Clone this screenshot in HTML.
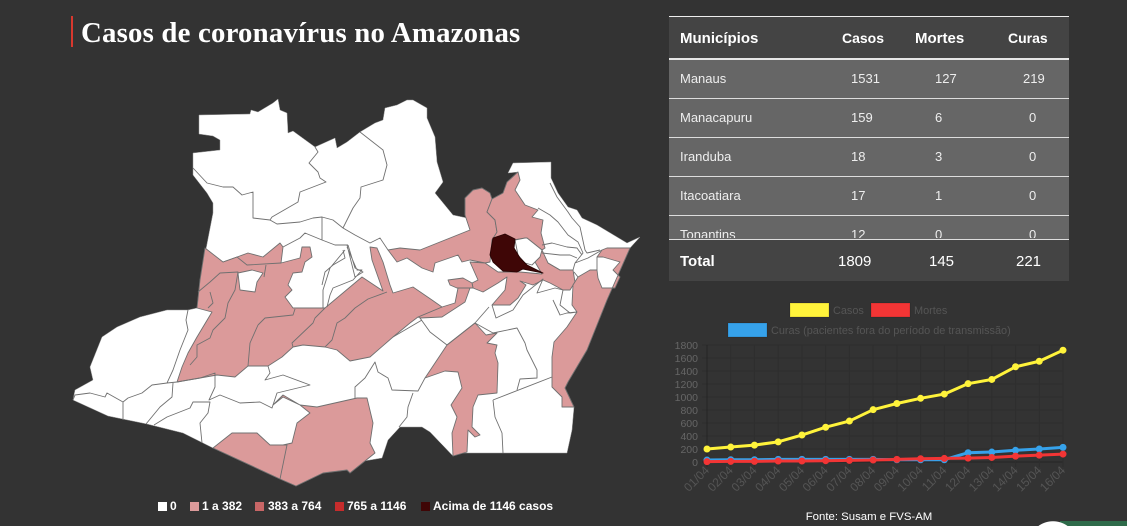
<!DOCTYPE html>
<html lang="pt">
<head>
<meta charset="utf-8">
<title>Casos de coronavírus no Amazonas</title>
<style>
html,body{margin:0;padding:0;background:#333;width:1127px;height:526px;overflow:hidden;}
body{position:relative;font-family:"Liberation Sans",sans-serif;color:#fff;}
.abs{position:absolute;}
#title{left:81px;top:15px;font:bold 28.8px/36px "Liberation Serif",serif;letter-spacing:.2px;white-space:nowrap;}
#title-bar{left:71px;top:16px;width:2px;height:31px;background:#d8382e;}
#tbl{left:669px;top:16px;width:400px;height:265px;background:#666;overflow:hidden;}
.row{position:absolute;left:0;width:400px;height:38px;border-bottom:1px solid #ddd;font-size:13px;color:#eee;}
.c{position:absolute;line-height:37px;white-space:nowrap;}
#thead{position:absolute;left:0;top:0;width:400px;height:41px;background:#444;border-top:1px solid #eee;border-bottom:2px solid #e6e6e6;font-weight:bold;font-size:15px;}
#thead .c{line-height:43px;}
#tfoot{position:absolute;left:0;top:223px;width:400px;height:41px;background:#444;border-top:1px solid #ddd;font-size:15px;}
#tfoot .c{line-height:43px;}
.leg{position:absolute;top:499px;font:bold 12px/14px "Liberation Sans",sans-serif;white-space:nowrap;}
.sw{position:absolute;top:502px;width:9px;height:9px;}
#fonte{left:769px;width:200px;top:510px;text-align:center;font-size:11.4px;line-height:15px;}
#corner-green{left:1060px;top:521px;width:67px;height:5px;background:#2e6b4a;}
#corner-circle{left:1028px;top:521px;width:50px;height:5px;background:radial-gradient(circle 25px at 25px 25px,#fff 24.5px,rgba(255,255,255,0) 25px);}
</style>
</head>
<body>
<div id="title-bar" class="abs"></div>
<div id="title" class="abs">Casos de coronavírus no Amazonas</div>

<svg class="abs" style="left:0;top:0" width="660" height="500" viewBox="0 0 660 500">
<g stroke="#707070" stroke-width="0.9" stroke-linejoin="round" fill="none">
<polygon fill="#fff" stroke="#999" stroke-width="0.5" points="199,115 250,114 251,110 258,112 273,103 278,99 280,110 287,113 288,133 293,131 315,147 335,138 337,148 347,142 360,132 375,123 383,120 385,108 397,105 407,100 413,100 427,108 427,118 435,137 437,162 443,182 435,193 453,215 467,218 470,230 465,215 465,198 473,190 482,188 490,193 492,199 503,193 507,182 518,172 508,173 513,163 551,162 551,178 558,193 568,207 577,210 582,218 597,225 617,237 627,243 640,237 630,248 607,300 587,350 568,382 565,388 574,407 572,430 567,453 463,453 453,456 430,432 422,427 400,427 388,440 382,458 358,462 350,473 347,470 323,473 296,486 280,479 213,448 183,433 147,424 108,416 73,400 75,390 93,380 90,367 102,337 117,327 140,317 167,310 188,310 197,308 200,280 213,213 213,203 207,193 193,175 193,153 220,150 220,140 213,136 199,134"/>
<g fill="#db9a9a">
<polygon points="388,250 400,248 420,250 440,242 470,230 465,215 465,198 473,190 482,188 490,193 492,199 487,212 495,220 497,232 507,236 492,240 490,262 485,263 470,260 462,262 458,255 435,263 433,272 422,268 407,258 397,262"/>
<polygon points="492,199 503,193 507,182 518,172 520,180 515,190 525,205 538,210 532,217 543,220 541,233 545,248 542,250 527,238 513,240 503,235 492,240 497,232 495,220 487,212"/>
<polygon points="470,262 485,263 498,272 510,272 520,272 542,274 535,262 542,250 548,263 560,270 573,270 575,282 570,290 563,290 550,283 543,280 533,285 520,281 526,285 518,298 510,305 492,305 505,290 507,277 498,283 483,292 473,288 472,283 478,280"/>
<polygon points="448,280 463,278 472,283 473,288 457,288 450,285"/>
<polygon points="458,288 470,288 465,302 442,317 420,318 418,317 442,307 455,303"/>
<polygon points="205,248 223,262 237,257 248,253 263,257 280,243 283,247 281,263 300,258 302,247 310,247 312,257 305,262 302,272 293,273 288,285 292,290 285,297 293,308 325,308 362,277 383,291 372,260 370,247 377,248 383,262 390,285 393,293 413,287 432,300 442,307 418,317 410,323 393,337 370,357 350,361 337,350 325,347 303,345 293,347 282,357 268,366 248,366 235,377 217,375 200,378 177,382 182,367 188,353 197,337 212,312 197,308 200,280"/>
<polygon points="475,323 486,335 497,333 487,343 497,345 495,353 498,363 497,393 478,395 473,407 472,427 480,435 475,437 468,430 467,452 453,456 452,433 457,417 451,405 462,388 458,372 445,371 425,378 447,345"/>
<polygon points="602,250 607,248 630,248 607,300 587,350 568,382 565,388 574,407 562,407 562,397 552,387 552,357 554,342 567,327 577,312 572,305 573,285 578,277 590,270 597,270 598,278 602,288 615,288 620,277 613,270 620,262 603,257 597,257"/>
<polygon points="273,405 283,395 300,405 317,407 357,398 367,398 373,423 370,443 375,453 350,473 347,470 323,473 296,486 280,479 283,445 292,443 297,423 310,413 300,405 283,397"/>
<polygon points="213,448 232,433 257,433 270,445 287,445 280,479"/>
</g>
<polygon fill="#fff" points="238,273 252,270 263,273 257,282 255,292 240,290"/>
<polygon fill="#fff" points="515,240 525,238 527,238 542,250 540,257 532,265 525,263 518,255"/>
<polygon fill="#3f0606" stroke="#2a0404" points="493,238 505,234 515,239 514,248 520,258 527,265 543,273 523,269 517,272 503,271 493,262 490,255"/>
<path d="M193,168L207,183 223,187 233,187 242,195 253,192 253,218 270,220 277,224 300,222 313,218 322,217 333,220 343,228 355,235 370,243 380,238 388,250
M315,147L318,152 309,163 318,172 320,178 326,182 300,192 298,202 272,217 270,220
M322,217L322,240 335,245 348,245
M360,132L383,150 387,165 383,180 361,187 360,198 353,208 343,228
M283,247L300,238 305,233 322,240
M348,245L355,268 363,272 355,277 347,245
M343,250L345,258 333,265 325,272 322,285
M323,308L323,290 330,268 345,250
M327,307L330,295 333,288 353,280 362,270 357,270 347,247
M223,262L237,257 247,265 281,263
M266,265L264,277
M198,292L210,282 220,273 238,272 235,290 228,303 225,318 213,330 210,338 197,345 197,357 190,365
M210,292L213,303 208,308
M258,325L265,318 293,315 295,309
M258,325L250,343 248,366
M325,308L315,318 313,323 292,343 293,347
M387,292L368,299 355,308 345,318 337,323 332,340 325,347
M188,310L186,320 188,330 180,350 173,370 167,383 152,385 142,393 128,398 123,402 107,393 105,397 90,393 75,395 73,400
M123,402L123,420M173,383L172,397 160,407 146,424
M154,425L167,417 190,408 193,402 210,402 208,413 200,423 202,443
M177,382L167,383M177,382L200,378 215,373 215,387 209,400 220,395 240,403 260,402 272,408 273,405
M268,366L270,373 265,380 283,375 310,385 277,393 273,405
M355,398L355,387 365,378 375,362 378,372 388,378 392,390 418,391 425,378
M413,393L408,407 407,417 399,427
M420,318L430,332 447,345
M422,320L393,337
M447,345L475,323 489,307
M492,305L496,318 513,310 523,295 543,279 537,293 555,288 563,290 560,305 570,313 577,312
M475,323L493,333 517,328 525,343 527,350 537,370 537,378 520,379 517,390
M493,400L552,377M493,400L495,417 502,433 503,453
M553,300L560,315 567,313 577,312
M538,208L550,215 558,222 568,235 578,242 583,253 575,263
M550,183L557,197 568,212 572,218 580,227 585,250 587,253 600,250
M542,245L552,243 567,247 577,248 582,255
M542,253L560,255 570,255 577,258
M548,263L560,270 573,270 575,263 588,258 602,250
M574,272L578,277
M597,257L597,270" />
</g>
</svg>

<div class="sw abs" style="left:158px;background:#fff"></div>
<div class="leg" style="left:170px">0</div>
<div class="sw abs" style="left:190px;background:#db9a9a"></div>
<div class="leg" style="left:202px">1 a 382</div>
<div class="sw abs" style="left:255px;background:#c86666"></div>
<div class="leg" style="left:268px">383 a 764</div>
<div class="sw abs" style="left:335px;background:#c62c2c"></div>
<div class="leg" style="left:347px">765 a 1146</div>
<div class="sw abs" style="left:421px;background:#3f0606"></div>
<div class="leg" style="left:433px">Acima de 1146 casos</div>

<div id="tbl" class="abs">
  <div class="row" style="top:44px"><span class="c" style="left:11px">Manaus</span><span class="c" style="left:182px">1531</span><span class="c" style="left:266px">127</span><span class="c" style="left:354px">219</span></div>
  <div class="row" style="top:83px"><span class="c" style="left:11px">Manacapuru</span><span class="c" style="left:182px">159</span><span class="c" style="left:266px">6</span><span class="c" style="left:360px">0</span></div>
  <div class="row" style="top:122px"><span class="c" style="left:11px">Iranduba</span><span class="c" style="left:182px">18</span><span class="c" style="left:266px">3</span><span class="c" style="left:360px">0</span></div>
  <div class="row" style="top:161px"><span class="c" style="left:11px">Itacoatiara</span><span class="c" style="left:182px">17</span><span class="c" style="left:266px">1</span><span class="c" style="left:360px">0</span></div>
  <div class="row" style="top:200px;height:22px;overflow:hidden;border-bottom:0"><span class="c" style="left:11px">Tonantins</span><span class="c" style="left:182px">12</span><span class="c" style="left:266px">0</span><span class="c" style="left:360px">0</span></div>
  <div id="thead"><span class="c" style="left:11px">Municípios</span><span class="c" style="left:173px;font-size:14px">Casos</span><span class="c" style="left:246px">Mortes</span><span class="c" style="left:339px;font-size:14px">Curas</span></div>
  <div id="tfoot"><span class="c" style="left:11px;font-weight:bold">Total</span><span class="c" style="left:169px">1809</span><span class="c" style="left:260px">145</span><span class="c" style="left:347px">221</span></div>
</div>

<svg id="chart" class="abs" style="left:660px;top:295px" width="420" height="215" viewBox="660 295 420 215"></svg>

<div id="fonte" class="abs">Fonte: Susam e FVS-AM</div>
<div id="corner-green" class="abs"></div>
<div id="corner-circle" class="abs"></div>

<script>
const dates = ["01/04","02/04","03/04","04/04","05/04","06/04","07/04","08/04","09/04","10/04","11/04","12/04","13/04","14/04","15/04","16/04"];
const casos = [200,230,260,310,415,535,630,805,900,980,1045,1205,1270,1465,1550,1720];
const mortes = [5,10,10,15,15,20,25,30,40,50,55,60,70,90,105,122];
const curas = [30,35,35,40,40,40,40,40,35,35,35,143,153,180,200,225];
const yTicks = [0,200,400,600,800,1000,1200,1400,1600,1800];
const NS = "http://www.w3.org/2000/svg";
const chart = document.getElementById("chart");
const X0 = 707, X1 = 1063, Y0 = 462, Y1 = 345, YMAX = 1800;
function xPos(i){ return X0 + (X1 - X0) * i / (dates.length - 1); }
function yPos(v){ return Y0 - (Y0 - Y1) * v / YMAX; }
function make(tag, attrs, parent){
  const el = document.createElementNS(NS, tag);
  for (const k in attrs) el.setAttribute(k, attrs[k]);
  (parent || chart).appendChild(el);
  return el;
}
yTicks.forEach(function(t){
  const grid = make("line",{x1:702,x2:X1,y1:yPos(t),y2:yPos(t),stroke:t===0?"#242424":"#2e2e2e","stroke-width":1});
  
  
  const lab = make("text",{x:698,y:yPos(t)+4,"text-anchor":"end",fill:"#666","font-size":"10.5","font-family":"Liberation Sans, sans-serif"});
  lab.textContent = t;
  
  
});
dates.forEach(function(d,i){
  const grid = make("line",{x1:xPos(i),x2:xPos(i),y1:Y1,y2:Y0+5,stroke:i===0?"#242424":"#2e2e2e","stroke-width":1});
  
  
  const lab = make("text",{transform:"translate("+(xPos(i)+3)+","+(Y0+9)+") rotate(-45)","text-anchor":"end",fill:"#555","font-size":"12","font-family":"Liberation Sans, sans-serif"});
  lab.textContent = d;
  
  
});
function drawSeries(vals, color, name){
  const pts = vals.map(function(v,i){ return xPos(i)+","+yPos(v); }).join(" ");
  const line = make("polyline",{points:pts,fill:"none",stroke:color,"stroke-width":3,"stroke-linejoin":"round"});
  
  
  vals.forEach(function(v,i){
    const dot = make("circle",{cx:xPos(i),cy:yPos(v),r:3,fill:color,stroke:color,"stroke-width":1});
    
    
  });
}
drawSeries(casos,"#fff33b","casos");
drawSeries(curas,"#36a2eb","curas");
drawSeries(mortes,"#f23535","mortes");
function legendEntry(x,y,color,label,name){
  const box = make("rect",{x:x,y:y,width:39,height:14,fill:color,stroke:"rgba(0,0,0,.15)","stroke-width":1});
  
  
  const t = make("text",{x:x+43,y:y+11,fill:"#555","font-size":"10.9","font-family":"Liberation Sans, sans-serif"});
  t.textContent = label;
  
  
}
legendEntry(790,303,"#fff33b","Casos","casos");
legendEntry(871,303,"#f23535","Mortes","mortes");
legendEntry(728,323,"#36a2eb","Curas (pacientes fora do período de transmissão)","curas");
</script>
</body>
</html>
